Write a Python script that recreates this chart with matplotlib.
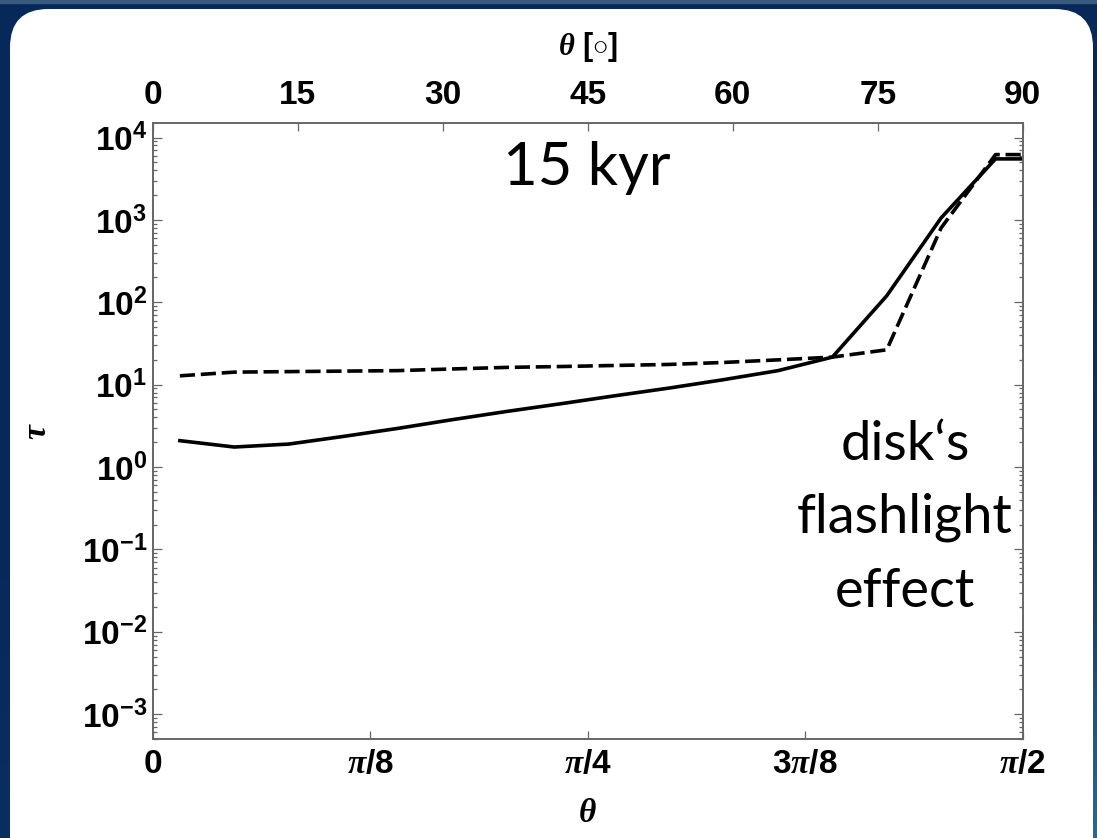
import numpy as np
import matplotlib
matplotlib.use("Agg")
import matplotlib.pyplot as plt
from matplotlib.patches import FancyBboxPatch
from matplotlib.colors import LinearSegmentedColormap
from matplotlib.ticker import LogLocator, NullFormatter

plt.rcParams['mathtext.fontset'] = 'custom'
plt.rcParams['mathtext.rm'] = 'Liberation Sans:bold'
plt.rcParams['mathtext.bf'] = 'Liberation Sans:bold'
plt.rcParams['mathtext.it'] = 'Liberation Serif:bold:italic'
plt.rcParams['mathtext.default'] = 'it'

# ---- data ----
theta_deg = [2.8125, 8.4375, 14.0625, 19.6875, 25.3125, 30.9375, 36.5625, 42.1875,
             47.8125, 53.4375, 59.0625, 64.6875, 70.3125, 75.9375, 81.5625, 87.1875, 90.0]
tau_solid = [2.09, 1.75, 1.90, 2.35, 2.94, 3.75, 4.72, 5.86, 7.33, 9.1, 11.5, 14.8,
             21.6, 120, 1058, 5500, 5500]
tau_dashed = [12.8, 14.2, 14.4, 14.6, 14.8, 15.5, 16.2, 16.6, 17.1, 17.6, 18.6, 20.0,
              21.6, 26.5, 800, 6200, 6200]
xtick_labels = ['0', r'$\mathit{\pi}$/8', r'$\mathit{\pi}$/4', r'3$\mathit{\pi}$/8', r'$\mathit{\pi}$/2']
top_ticks = [0, 15, 30, 45, 60, 75, 90]
ytick_exps = [-3, -2, -1, 0, 1, 2, 3, 4]

W, H = 1097, 838
fig = plt.figure(figsize=(W / 100, H / 100), dpi=100)

# background gradient
bg = fig.add_axes([0, 0, 1, 1])
bg.set_axis_off()
yy, xx = np.mgrid[0:1:200j, 0:1:200j]
g = np.clip((xx * 0.6 + yy * 0.9) - 0.5, 0, 1) ** 1.5
cmap = LinearSegmentedColormap.from_list('bgc', ['#07295a', '#0a3466', '#16709f'])
bg.imshow(g, cmap=cmap, aspect='auto', extent=[0, 1, 0, 1], origin='upper')
bg.axhspan(1 - 3 / H, 1, color='#3a5a80')
bg.set_xlim(0, 1)
bg.set_ylim(0, 1)
panel = FancyBboxPatch((10 / W, -40 / H), (1093 - 10) / W, (838 - 9 + 40) / H,
                       boxstyle="round,pad=0,rounding_size=0.035",
                       transform=bg.transAxes, facecolor='white', edgecolor='none',
                       mutation_aspect=W / H)
bg.add_patch(panel)

ax = fig.add_axes([152.7 / W, 99 / H, 870 / W, 616 / H])
x = np.deg2rad(theta_deg)
ax.plot(x, tau_solid, color='black', lw=2.6)
ax.plot(x, tau_dashed, color='black', lw=2.6, ls=(0, (4.2, 1.6)))
ax.set_yscale('log')
ax.set_xlim(0, np.pi / 2)
ax.set_ylim(5e-4, 1.5e4)

ax.set_xticks([0, np.pi / 8, np.pi / 4, 3 * np.pi / 8, np.pi / 2])
ax.set_xticklabels(xtick_labels)
ax.set_yticks([10.0 ** e for e in ytick_exps])
ax.set_yticklabels([r'$\mathbf{10^{%d}}$' % e for e in ytick_exps])
ax.yaxis.set_minor_locator(LogLocator(base=10, subs=np.arange(2, 10), numticks=20))
ax.yaxis.set_minor_formatter(NullFormatter())

spine_c = '#666666'
for s in ax.spines.values():
    s.set_color(spine_c)
    s.set_linewidth(1.2)

ax.tick_params(axis='both', which='both', direction='in', color=spine_c, width=0.9)
ax.tick_params(axis='y', which='major', length=6.5, right=True, pad=4)
ax.tick_params(axis='y', which='minor', length=3.2, right=True)
ax.tick_params(axis='x', which='major', length=5.5, top=False, pad=7)
for lab in ax.get_xticklabels() + ax.get_yticklabels():
    lab.set_fontfamily('Liberation Sans')
    lab.set_fontweight('bold')
    lab.set_fontsize(24)

ax.set_xlabel(r'$\theta$', fontsize=24, labelpad=12)
ax.set_ylabel(r'$\tau$', fontsize=24, labelpad=21)

ax2 = ax.twiny()
ax2.set_xlim(0, 90)
ax2.set_xticks(top_ticks)
ax2.set_xticklabels([str(t) for t in top_ticks])
ax2.tick_params(axis='x', direction='in', length=5.5, color=spine_c, width=0.9, pad=9)
for lab in ax2.get_xticklabels():
    lab.set_fontfamily('Liberation Sans')
    lab.set_fontweight('bold')
    lab.set_fontsize(24)
for s in ax2.spines.values():
    s.set_color(spine_c)
    s.set_linewidth(1.2)
ax2.set_xlabel(r'$\theta$ [$\mathbf{\circ}$]', fontsize=22, labelpad=18,
               fontfamily='Liberation Sans', fontweight='bold')

fig.text(587 / W, 1 - 185 / H, '15 kyr', fontsize=43, fontfamily='Lato',
         ha='center', va='baseline')
for txt, base in [('disk\u2018s', 460), ('flashlight', 532), ('effect', 607)]:
    fig.text(905 / W, 1 - base / H, txt, fontsize=39, fontfamily='Lato',
             ha='center', va='baseline')

fig.savefig('out.png', dpi=100)
